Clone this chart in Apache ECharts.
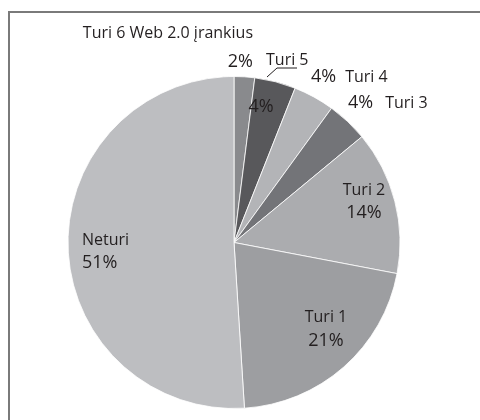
<!DOCTYPE html>
<html>
<head>
<meta charset="utf-8">
<script src="https://cdn.jsdelivr.net/npm/echarts@6/dist/echarts.min.js"></script>
<style>
  html, body { margin: 0; padding: 0; background: #ffffff; }
  #chart { width: 480px; height: 420px; }
</style>
</head>
<body>
<div id="chart"></div>
<script>
// ---- data ----
const categories = ['Turi 6 Web 2.0 įrankius', 'Turi 5', 'Turi 4', 'Turi 3', 'Turi 2', 'Turi 1', 'Neturi'];
const values = [2, 4, 4, 4, 14, 21, 51];
const shortNames = ['Turi 6', 'Turi 5', 'Turi 4', 'Turi 3', 'Turi 2', 'Turi 1', 'Neturi'];

// ---- styles / layout ----
const sliceColors = ['#898a8d', '#58585b', '#b3b4b7', '#737478', '#abacaf', '#9d9ea1', '#bdbec1'];
const textColor = '#231f20';
const FONT = '"Open Sans", "Noto Sans", sans-serif';

// inside label modes: null = none, 'p' = percent only, 'np' = name + percent
const insideMode = [null, 'p', null, null, 'np', 'np', 'np'];
// outside label modes
const outsideMode = ['name2', 'name', 'pn', 'pn', null, null, null];

// label anchor positions [x, y, align]
const insidePos = [null, [261, 107, 'center'], null, null, [364, 201.5, 'center'], [326, 329, 'center'], [82, 251.5, 'left']];
const outsidePos = [[253, 47.5, 'right'], [266, 60, 'left'], [311, 77, 'left'], [348, 103, 'left'], null, null, null];
const turi5Leader = [[297, 68], [277, 68], [267, 77]];

const rich = {
  n: { fontFamily: FONT, fontSize: 16, color: textColor, lineHeight: 23 },
  p: { fontFamily: FONT, fontSize: 18, color: textColor, lineHeight: 23 },
  n2: { fontFamily: FONT, fontSize: 16, color: textColor, lineHeight: 29, align: 'right' },
  p2: { fontFamily: FONT, fontSize: 18, color: textColor, lineHeight: 29, align: 'right' },
  n4: { fontFamily: FONT, fontSize: 16, color: textColor, padding: [0, 0, 0, 9] },
  n3: { fontFamily: FONT, fontSize: 16, color: textColor, padding: [0, 0, 0, 12] }
};

const dataA = categories.map((name, i) => {
  const m = insideMode[i];
  let fmt = '';
  if (m === 'p') fmt = '{p|' + values[i] + '%}';
  if (m === 'np') fmt = '{n|' + shortNames[i] + '}\n{p|' + values[i] + '%}';
  return {
    name: name,
    value: values[i],
    itemStyle: { color: sliceColors[i] },
    label: { show: m !== null, formatter: fmt }
  };
});

const dataB = categories.map((name, i) => {
  const m = outsideMode[i];
  let fmt = '';
  if (m === 'name2') fmt = '{n2|' + name + '}\n{p2|' + values[i] + '%}';
  if (m === 'name') fmt = '{n|' + shortNames[i] + '}';
  if (m === 'pn') fmt = '{p|' + values[i] + '%}{' + (i === 2 ? 'n4' : 'n3') + '|' + shortNames[i] + '}';
  return {
    name: name,
    value: values[i],
    label: { show: m !== null, formatter: fmt },
    labelLine: { show: i === 1 }
  };
});

const chart = echarts.init(document.getElementById('chart'), null, { renderer: 'canvas' });
chart.setOption({
  animation: false,
  backgroundColor: '#ffffff',
  graphic: [{
    type: 'rect',
    shape: { x: 9, y: 12, width: 700, height: 700 },
    style: { fill: 'none', stroke: '#7a7a7a', lineWidth: 2 },
    silent: true,
    z: 0
  }],
  series: [
    {
      type: 'pie',
      center: [234, 242.5],
      radius: 166,
      startAngle: 90,
      clockwise: true,
      avoidLabelOverlap: false,
      silent: true,
      emphasis: { disabled: true },
      itemStyle: { borderColor: '#ffffff', borderWidth: 0.8 },
      label: { position: 'inside', rich: rich, color: textColor, fontFamily: FONT },
      labelLine: { show: false },
      labelLayout: function (p) {
        const pos = insidePos[p.dataIndex];
        if (!pos) return {};
        return { x: pos[0], y: pos[1], align: pos[2], verticalAlign: 'middle' };
      },
      data: dataA
    },
    {
      type: 'pie',
      center: [234, 242.5],
      radius: 166,
      startAngle: 90,
      clockwise: true,
      avoidLabelOverlap: false,
      silent: true,
      z: 3,
      emphasis: { disabled: true },
      itemStyle: { color: 'rgba(0,0,0,0)', borderWidth: 0 },
      label: { position: 'outside', rich: rich, color: textColor, fontFamily: FONT },
      labelLine: { lineStyle: { color: textColor, width: 1 } },
      labelLayout: function (p) {
        const pos = outsidePos[p.dataIndex];
        if (!pos) return {};
        const r = { x: pos[0], y: pos[1], align: pos[2], verticalAlign: 'middle' };
        if (p.dataIndex === 1) r.labelLinePoints = turi5Leader;
        return r;
      },
      data: dataB
    }
  ]
});
</script>
</body>
</html>
